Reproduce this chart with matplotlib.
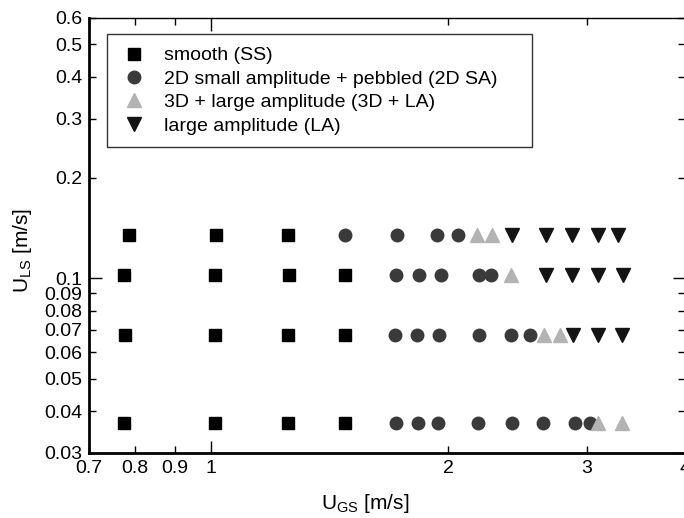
import matplotlib
matplotlib.use("Agg")
import matplotlib.pyplot as plt
from matplotlib.ticker import FixedLocator, FixedFormatter

plt.rcParams['font.family'] = ['Liberation Sans', 'DejaVu Sans']
plt.rcParams['mathtext.fontset'] = 'custom'
plt.rcParams['mathtext.rm'] = 'Liberation Sans'

# smooth (SS)
ss_x = [0.787, 1.015, 1.252, 0.775, 1.012, 1.256, 1.480, 0.778, 1.012, 1.252, 1.480, 0.775, 1.012, 1.252, 1.480]
ss_y = [0.1344, 0.1344, 0.1344, 0.1020, 0.1020, 0.1020, 0.1020, 0.0675, 0.0675, 0.0675, 0.0675, 0.0368, 0.0368, 0.0368, 0.0368]

# 2D small amplitude + pebbled
sa_x = [1.480, 1.723, 1.937, 2.060,
        1.718, 1.838, 1.960, 2.191, 2.269,
        1.713, 1.827, 1.949, 2.191, 2.406, 2.543,
        1.718, 1.832, 1.943, 2.185, 2.413, 2.641, 2.901, 3.031]
sa_y = [0.1344] * 4 + [0.1020] * 5 + [0.0675] * 6 + [0.0368] * 8

# 3D + large amplitude
la3_x = [2.178, 2.276, 2.406, 2.649, 2.777, 3.102, 3.328]
la3_y = [0.1344, 0.1344, 0.1020, 0.0675, 0.0675, 0.0368, 0.0368]

# large amplitude (LA)
la_x = [2.413, 2.665, 2.875, 3.102, 3.290,
        2.665, 2.875, 3.102, 3.339,
        2.884, 3.102, 3.328]
la_y = [0.1344] * 5 + [0.1020] * 4 + [0.0675] * 3

x_ticks = [0.7, 0.8, 0.9, 2, 3, 4]
x_labels = ['0.7', '0.8', '0.9', '2', '3', '4']
y_ticks = [0.03, 0.04, 0.05, 0.06, 0.07, 0.08, 0.09, 0.2, 0.3, 0.4, 0.5, 0.6]
y_labels = ['0.03', '0.04', '0.05', '0.06', '0.07', '0.08', '0.09', '0.2', '0.3', '0.4', '0.5', '0.6']

fig = plt.figure(figsize=(6.84, 5.18), dpi=100)
ax = fig.add_axes([89 / 684, 65 / 518, 596 / 684, 435 / 518])

ax.plot(ss_x, ss_y, 's', color='black', markersize=9, linestyle='none', label='smooth (SS)')
ax.plot(sa_x, sa_y, 'o', color='#3a3a3a', markersize=9, linestyle='none',
        label='2D small amplitude + pebbled (2D SA)    ')
ax.plot(la3_x, la3_y, '^', color='#b3b3b3', markersize=10, linestyle='none', label='3D + large amplitude (3D + LA)')
ax.plot(la_x, la_y, 'v', color='#141414', markersize=10, linestyle='none', label='large amplitude (LA)')

ax.set_xscale('log')
ax.set_yscale('log')
ax.set_xlim(0.7, 4)
ax.set_ylim(0.03, 0.6)

ax.xaxis.set_major_locator(FixedLocator([1]))
ax.xaxis.set_major_formatter(FixedFormatter(['1']))
ax.xaxis.set_minor_locator(FixedLocator(x_ticks))
ax.xaxis.set_minor_formatter(FixedFormatter(x_labels))
ax.yaxis.set_major_locator(FixedLocator([0.1]))
ax.yaxis.set_major_formatter(FixedFormatter(['0.1']))
ax.yaxis.set_minor_locator(FixedLocator(y_ticks))
ax.yaxis.set_minor_formatter(FixedFormatter(y_labels))

ax.tick_params(which='both', direction='in', top=True, right=True, labelsize=14, width=1, pad=5)
ax.tick_params(which='major', length=9)
ax.tick_params(which='minor', length=5)
ax.tick_params(axis='y', which='both', pad=5)

for s in ['left', 'bottom']:
    ax.spines[s].set_linewidth(2)
for s in ['top', 'right']:
    ax.spines[s].set_linewidth(1)

ax.set_xlabel(r'$\mathregular{U_{GS}}$ [m/s]', fontsize=15)
ax.set_ylabel(r'$\mathregular{U_{LS}}$ [m/s]', fontsize=15)
ax.xaxis.set_label_coords((365 - 89) / 596, -0.09)
ax.yaxis.set_label_coords(-0.092, (453 - 250) / 435)

leg = ax.legend(loc='upper left', bbox_to_anchor=(0.03, 0.963), fontsize=14, frameon=True,
                fancybox=False, edgecolor='#333333', framealpha=1, handletextpad=0.8,
                borderpad=0.65, labelspacing=0.3, handlelength=1.5, borderaxespad=0)
leg.get_frame().set_linewidth(1)

fig.savefig('out.png', dpi=100)
